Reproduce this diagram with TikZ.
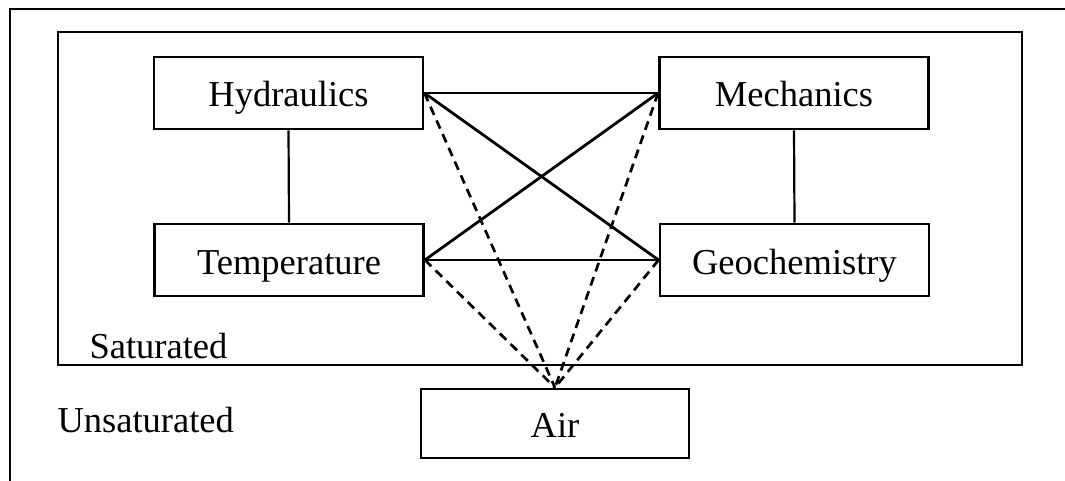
\documentclass[tikz,border=0pt]{standalone}
\usepackage{fontspec}
\setmainfont{Liberation Serif}
\begin{document}
\begin{tikzpicture}[x=1pt,y=-1pt,
  every node/.style={font=\fontsize{36.5}{40}\selectfont},
  field/.style={draw, line width=2.8pt, minimum width=269pt, minimum height=72pt,
    inner sep=0pt, text height=28pt, text depth=0pt},
  link/.style={line width=2.8pt},
  tie/.style={line width=2.2pt},
  airlink/.style={line width=2.7pt, dash pattern=on 9pt off 6pt},
  frame/.style={line width=2.6pt}]
\useasboundingbox (0,0) rectangle (1065,481);
% outer frame (top and left edges)
\coordinate (ftl) at (10,9);
\coordinate (ftr) at (1065,9);
\coordinate (fbl) at (10,481);
\draw[frame] (ftr) -- (ftl) -- (fbl);
% saturated zone
\draw[line width=2.3pt] (58,32) rectangle (1022,365);
\node[anchor=base west] (sat) at (86,358) {Saturated};
\node[anchor=base west] (unsat) at (54,432) {Unsaturated};
% process boxes
\node[field] (H) at (288.5,93) {Hydraulics};
\node[field] (M) at (794,93) {Mechanics};
\node[field] (T) at (289,260) {Temperature};
\node[field] (G) at (794.5,260) {Geochemistry};
\node[field, minimum height=69pt, minimum width=268pt] (A) at (555,423.5) {Air};
% couplings
\draw[link] (H.east) -- (M.west);
\draw[link] (T.east) -- (G.west);
\draw[link] (H.east) -- (G.west);
\draw[link] (T.east) -- (M.west);
\draw[tie] (H.south) -- (T.north);
\draw[tie] (M.south) -- (G.north);
\draw[airlink] (H.east) -- (A.north);
\draw[airlink] (M.west) -- (A.north);
\draw[airlink] (T.east) -- (A.north);
\draw[airlink] (G.west) -- (A.north);
\end{tikzpicture}
\end{document}
